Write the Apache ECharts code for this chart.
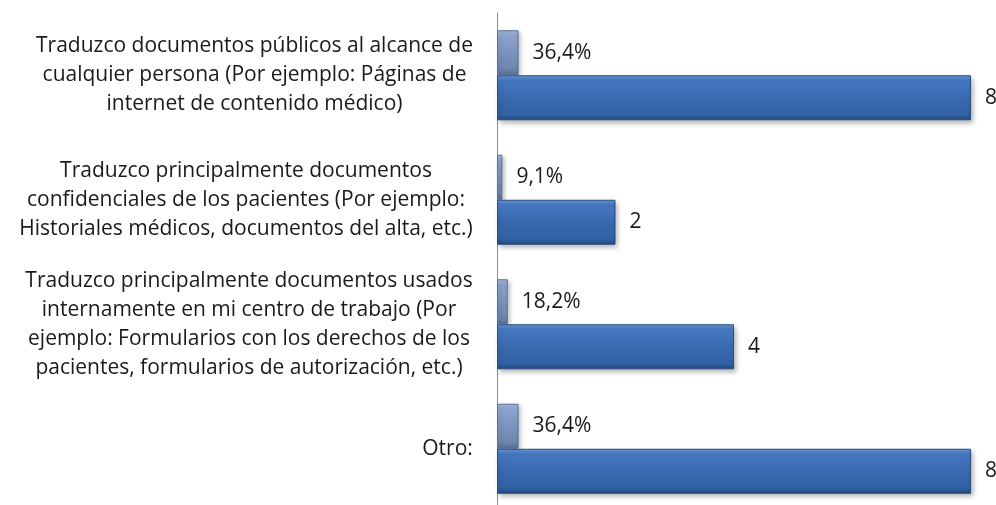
<!DOCTYPE html>
<html>
<head>
<meta charset="utf-8">
<script src="https://cdn.jsdelivr.net/npm/echarts@6/dist/echarts.min.js"></script>
<style>
  html, body { margin: 0; padding: 0; background: #fff; }
  #chart { width: 996px; height: 505px; }
</style>
</head>
<body>
<div id="chart"></div>
<script>
// categorías (con saltos de línea como en el original)
var categories = [
  'Traduzco documentos públicos al alcance de\ncualquier persona (Por ejemplo: Páginas de\ninternet de contenido médico)',
  'Traduzco principalmente documentos\nconfidenciales de los pacientes (Por ejemplo:\nHistoriales médicos, documentos del alta, etc.)',
  'Traduzco principalmente documentos usados\ninternamente en mi centro de trabajo (Por\nejemplo: Formularios con los derechos de los\npacientes, formularios de autorización, etc.)',
  'Otro:'
];
// porcentaje (fracción) y número de respuestas
var shares = [0.364, 0.091, 0.182, 0.364];
var counts = [8, 2, 4, 8];

var FONT = "'Open Sans'";
var FS = 21;
var LH = 29;

// medir el ancho de cada bloque para centrar las líneas dentro del bloque
var ctx = document.createElement('canvas').getContext('2d');
ctx.font = FS + 'px ' + FONT;
var rich = {};
categories.forEach(function (c, i) {
  var w = 0;
  c.split('\n').forEach(function (l) { w = Math.max(w, ctx.measureText(l).width); });
  rich['c' + i] = { width: Math.ceil(w), align: 'center', fontSize: FS, lineHeight: LH, fontFamily: FONT, color: '#1a1a1a' };
});

var chart = echarts.init(document.getElementById('chart'));

var option = {
  animation: false,
  grid: { left: 497, right: 25, top: 13, height: 498, outerBoundsMode: 'none' },
  xAxis: {
    type: 'value', min: 0, max: 8, show: false
  },
  yAxis: {
    type: 'category',
    inverse: true,
    data: categories,
    axisLine: { lineStyle: { color: '#8c8c8c', width: 1 } },
    axisTick: { show: false },
    axisLabel: {
      margin: 24,
      formatter: function (v, idx) {
        return v.split('\n').map(function (l) { return '{c' + idx + '|' + l + '}'; }).join('\n');
      },
      rich: rich
    }
  },
  series: [
    {
      name: 'Porcentaje',
      type: 'bar',
      data: shares,
      barWidth: 45,
      barGap: '0%',
      itemStyle: {
        color: new echarts.graphic.LinearGradient(0, 0, 0, 1, [
          { offset: 0, color: '#a5badf' },
          { offset: 0.15, color: '#8aa2cd' },
          { offset: 0.5, color: '#7b93bd' },
          { offset: 0.85, color: '#6e86b0' },
          { offset: 1, color: '#586f96' }
        ]),
        borderColor: '#5d7196',
        borderWidth: 1,
        shadowColor: 'rgba(0,0,0,0.25)',
        shadowBlur: 4,
        shadowOffsetX: 2,
        shadowOffsetY: 2
      },
      label: {
        show: true, position: 'right', distance: 14,
        fontFamily: FONT, fontSize: FS, color: '#1a1a1a',
        formatter: function (p) { return (p.value * 100).toFixed(1).replace('.', ',') + '%'; }
      }
    },
    {
      name: 'Respuestas',
      type: 'bar',
      data: counts,
      barWidth: 45,
      itemStyle: {
        color: new echarts.graphic.LinearGradient(0, 0, 0, 1, [
          { offset: 0, color: '#679ade' },
          { offset: 0.12, color: '#4679c2' },
          { offset: 0.5, color: '#3a69ae' },
          { offset: 0.88, color: '#3161a3' },
          { offset: 1, color: '#24487c' }
        ]),
        borderColor: '#2a4d7f',
        borderWidth: 1,
        shadowColor: 'rgba(0,0,0,0.3)',
        shadowBlur: 5,
        shadowOffsetX: 2,
        shadowOffsetY: 3
      },
      label: {
        show: true, position: 'right', distance: 14,
        fontFamily: FONT, fontSize: FS, color: '#1a1a1a'
      }
    }
  ]
};

chart.setOption(option);
</script>
</body>
</html>
